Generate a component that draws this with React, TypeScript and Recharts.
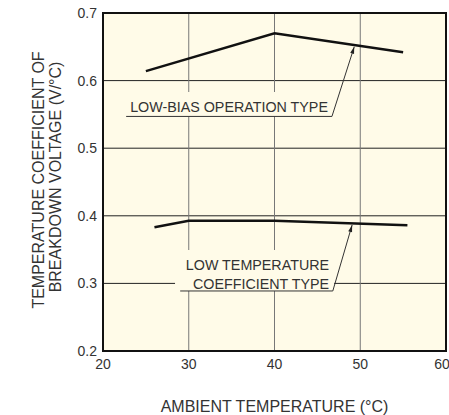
import React from 'react';
import {
  LineChart,
  Line,
  XAxis,
  YAxis,
  CartesianGrid,
  ReferenceArea,
  ReferenceLine,
  ReferenceDot,
  Label,
} from 'recharts';

// axis ticks
const xTicks = [20, 30, 40, 50, 60];
const yTicks = [0.2, 0.3, 0.4, 0.5, 0.6, 0.7];

// low-bias operation type curve
const lowBiasTemp = [25, 40, 55];
const lowBiasCoef = [0.614, 0.67, 0.642];

// low temperature coefficient type curve
const lowTcTemp = [26, 30, 40, 55.5];
const lowTcCoef = [0.383, 0.3925, 0.3925, 0.386];

// annotation texts
const lowBiasNote = ['LOW-BIAS OPERATION TYPE'];
const lowTcNote = ['LOW TEMPERATURE', 'COEFFICIENT TYPE'];

// leader lines (data coords): underline start, underline end, arrow tip
const lowBiasLeader = [
  { x: 22.7, y: 0.547 },
  { x: 46.7, y: 0.547 },
  { x: 49.3, y: 0.65 },
];
const lowTcLeader = [
  { x: 29.0, y: 0.2888 },
  { x: 46.8, y: 0.2888 },
  { x: 49.05, y: 0.3864 },
];

const lowBiasData = lowBiasTemp.map((t, i) => ({ temp: t, coef: lowBiasCoef[i] }));
const lowTcData = lowTcTemp.map((t, i) => ({ temp: t, coef: lowTcCoef[i] }));

const FONT = '"Liberation Sans", Arial, sans-serif';
const BG = '#fffbe8';
const TEXT = '#333';

const YAxisTitle = () => (
  <g>
    <text
      x={38}
      y={180}
      transform="rotate(-90 38 180)"
      textAnchor="middle"
      dominantBaseline="central"
      fontSize={16}
      fill={TEXT}
      fontFamily={FONT}
    >
      TEMPERATURE COEFFICIENT OF
    </text>
    <text
      x={55}
      y={177}
      transform="rotate(-90 55 177)"
      textAnchor="middle"
      dominantBaseline="central"
      fontSize={16}
      fill={TEXT}
      fontFamily={FONT}
    >
      BREAKDOWN VOLTAGE (V/°C)
    </text>
  </g>
);

const noteLabel = (lines: string[], anchor: 'middle' | 'end') => (props: any) => {
  const { x, y, width } = props.viewBox;
  const tx = anchor === 'middle' ? x + width / 2 : x + width - 5;
  return (
    <g>
      {lines.map((line, i) => (
        <text
          key={line}
          x={tx}
          y={y + 20 + i * 19}
          textAnchor={anchor}
          fontSize={14.3}
          fill={TEXT}
          fontFamily={FONT}
        >
          {line}
        </text>
      ))}
    </g>
  );
};

const arrowHead = (angle: number) => (props: any) => {
  const { cx, cy } = props;
  return (
    <polygon
      points="0,0 -7,-2 -7,2"
      fill="#222"
      transform={`translate(${cx} ${cy}) rotate(${angle})`}
    />
  );
};

const App: React.FC = () => {
  return (
    <div style={{ position: 'absolute', left: 0, top: 0, background: '#fff' }}>
      <LineChart
        width={449}
        height={415}
        margin={{ top: 13, right: 3, bottom: 0, left: 0 }}
        style={{ fontFamily: FONT }}
      >
        <CartesianGrid vertical={false} stroke="#222" fill={BG} fillOpacity={1} />
        <CartesianGrid horizontal={false} stroke="#777" />
        <XAxis
          type="number"
          dataKey="temp"
          domain={[20, 60]}
          ticks={xTicks}
          allowDataOverflow
          height={64}
          tickLine={false}
          axisLine={false}
          tickSize={0}
          tickMargin={8}
          tick={{ fill: TEXT, fontSize: 14 }}
        >
          <Label
            value="AMBIENT TEMPERATURE (°C)"
            position="insideBottom"
            offset={3}
            fill={TEXT}
            fontSize={16}
          />
        </XAxis>
        <YAxis
          type="number"
          domain={[0.2, 0.7]}
          ticks={yTicks}
          allowDataOverflow
          width={103}
          tickLine={false}
          axisLine={false}
          tickSize={0}
          tickMargin={6}
          tick={{ fill: TEXT, fontSize: 14 }}
          tickFormatter={(v) => v.toFixed(1)}
        >
          <Label content={YAxisTitle} />
        </YAxis>

        {/* text masks and annotation texts */}
        <ReferenceArea
          x1={22.5}
          x2={46.9}
          y1={0.547}
          y2={0.583}
          fill={BG}
          fillOpacity={1}
          stroke="none"
          label={noteLabel(lowBiasNote, 'middle')}
        />
        <ReferenceArea
          x1={28.4}
          x2={46.95}
          y1={0.2888}
          y2={0.3494}
          fill={BG}
          fillOpacity={1}
          stroke="none"
          label={noteLabel(lowTcNote, 'end')}
        />

        {/* leader lines */}
        <ReferenceLine
          segment={[lowBiasLeader[0], lowBiasLeader[1]]}
          stroke="#333"
          strokeWidth={1}
        />
        <ReferenceLine
          segment={[lowBiasLeader[1], lowBiasLeader[2]]}
          stroke="#333"
          strokeWidth={1}
        />
        <ReferenceDot
          x={lowBiasLeader[2].x}
          y={lowBiasLeader[2].y}
          r={3}
          shape={arrowHead(-72.4)}
        />
        <ReferenceLine
          segment={[lowTcLeader[0], lowTcLeader[1]]}
          stroke="#333"
          strokeWidth={1}
        />
        <ReferenceLine
          segment={[lowTcLeader[1], lowTcLeader[2]]}
          stroke="#333"
          strokeWidth={1}
        />
        <ReferenceDot
          x={lowTcLeader[2].x}
          y={lowTcLeader[2].y}
          r={3}
          shape={arrowHead(-74)}
        />

        <Line
          data={lowBiasData}
          dataKey="coef"
          type="linear"
          stroke="#111"
          strokeWidth={2.5}
          dot={false}
          isAnimationActive={false}
        />
        <Line
          data={lowTcData}
          dataKey="coef"
          type="linear"
          stroke="#111"
          strokeWidth={2.5}
          dot={false}
          isAnimationActive={false}
        />

        {/* plot border */}
        <ReferenceArea
          x1={20}
          x2={60}
          y1={0.2}
          y2={0.7}
          fill="none"
          stroke="#111"
          strokeWidth={2}
          ifOverflow="visible"
        />
      </LineChart>
    </div>
  );
};

export default App;
